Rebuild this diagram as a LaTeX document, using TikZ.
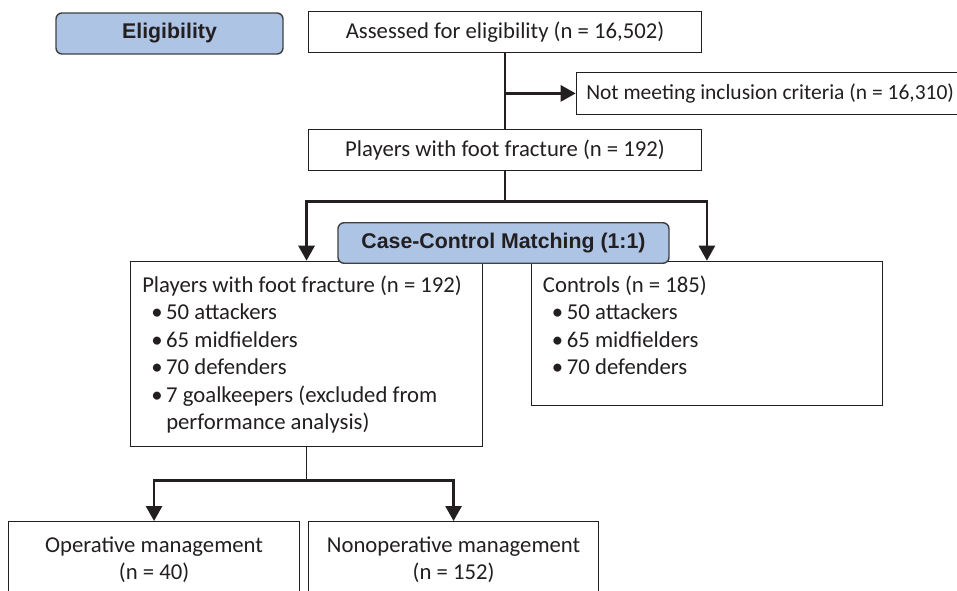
\documentclass[tikz,border=0pt]{standalone}
\usepackage{fontspec}
\setmainfont{Carlito}
\newfontfamily\headfont{Liberation Sans}
\usetikzlibrary{arrows.meta}
\definecolor{ink}{RGB}{35,31,32}
\definecolor{headblue}{RGB}{174,196,229}
\definecolor{headline}{RGB}{64,64,66}
\pgfdeclarelayer{edgelayer}
\pgfdeclarelayer{nodelayer}
\pgfsetlayers{edgelayer,nodelayer,main}
\newcommand{\bodyfont}{\fontsize{22.7}{27.4}\selectfont}
\newcommand{\natsp}{\spaceskip=0pt\relax\xspaceskip=0pt\relax}
\newcommand{\itm}{\hspace*{9pt}\makebox[15pt][l]{•}}
\newcommand{\mgmtline}[1]{\mbox{\natsp #1}}
\tikzstyle{box}=[rectangle, draw=ink, line width=1.1pt, fill=white, text=ink, font=\bodyfont, inner sep=0pt]
\tikzstyle{listbox}=[box, anchor=north west, align=left, inner xsep=11.7pt, inner ysep=10pt, text height=21.3pt]
\tikzstyle{mgmtbox}=[box, anchor=north west, align=center, inner xsep=11.7pt, inner ysep=10pt, text height=20.7pt, text depth=90pt]
\tikzstyle{headbox}=[rectangle, rounded corners=6pt, draw=headline, line width=1.4pt, fill=headblue, text=ink, font=\headfont\bfseries\fontsize{21.3}{25}\selectfont]
\tikzstyle{edge}=[draw=ink, line width=1.1pt]
\tikzstyle{boldedge}=[draw=ink, line width=2.8pt, -{Triangle[length=15pt,width=16pt]}]

\begin{document}
\begin{tikzpicture}[x=1pt, y=-1pt]
	\useasboundingbox (0,0) rectangle (957,590);
	\begin{pgfonlayer}{nodelayer}
		\clip (0,0) rectangle (957,590);
		\node [style=headbox, minimum width=227pt, minimum height=41pt] (1) at (169.5, 33.5) {Eligibility};
		\node [style=box, minimum width=393pt, minimum height=41pt] (2) at (505, 32.2) {Assessed for eligibility (n = 16,502)};
		\node [style=box, anchor=west, inner xsep=10pt, minimum height=41.3pt, font=\fontsize{21.5}{26}\selectfont] (3) at (575.7, 93.4) {Not meeting inclusion criteria (n = 16,310)};
		\node [style=box, minimum width=393pt, minimum height=41pt] (4) at (505, 150.4) {Players with foot fracture (n = 192)};
		\node [style=listbox, text width=328.6pt, text depth=144pt] (5) at (130, 260.7) {\natsp Players with foot fracture (n = 192)\\
			\itm 50 attackers\\
			\itm 65 midfielders\\
			\itm 70 defenders\\
			\itm 7 goalkeepers (excluded from\\
			\hspace*{24pt}performance analysis)};
		\node [style=listbox, text width=327.9pt, text depth=103pt] (6) at (530.7, 260.7) {\natsp Controls (n = 185)\\
			\itm 50 attackers\\
			\itm 65 midfielders\\
			\itm 70 defenders};
		\node [style=headbox, minimum width=331pt, minimum height=40.5pt] (7) at (503.5, 243) {Case-Control Matching (1:1)};
		\node [style=mgmtbox, text width=267.6pt] (8) at (8, 521) {\mgmtline{Operative management}\\\mgmtline{(n = 40)}};
		\node [style=mgmtbox, text width=266.6pt] (9) at (308, 521) {\mgmtline{Nonoperative management}\\\mgmtline{(n = 152)}};
	\end{pgfonlayer}
	\begin{pgfonlayer}{edgelayer}
		\coordinate (b1) at (2.south |- 3.west);
		\path (4.south) ++(0,30.3) coordinate (s1);
		\path (5.south) ++(0,33.3) coordinate (s2);
		\draw [style=edge] (2) to (4);
		\draw [style=boldedge] (b1) to (3.west);
		\draw [style=edge] (4.south) to (s1);
		\draw [style=boldedge] (s1) -| (5.north);
		\draw [style=boldedge] (s1) -| (6.north);
		\draw [style=edge] (5.south) to (s2);
		\draw [style=boldedge] (s2) -| (8.north);
		\draw [style=boldedge] (s2) -| (9.north);
	\end{pgfonlayer}
\end{tikzpicture}
\end{document}
